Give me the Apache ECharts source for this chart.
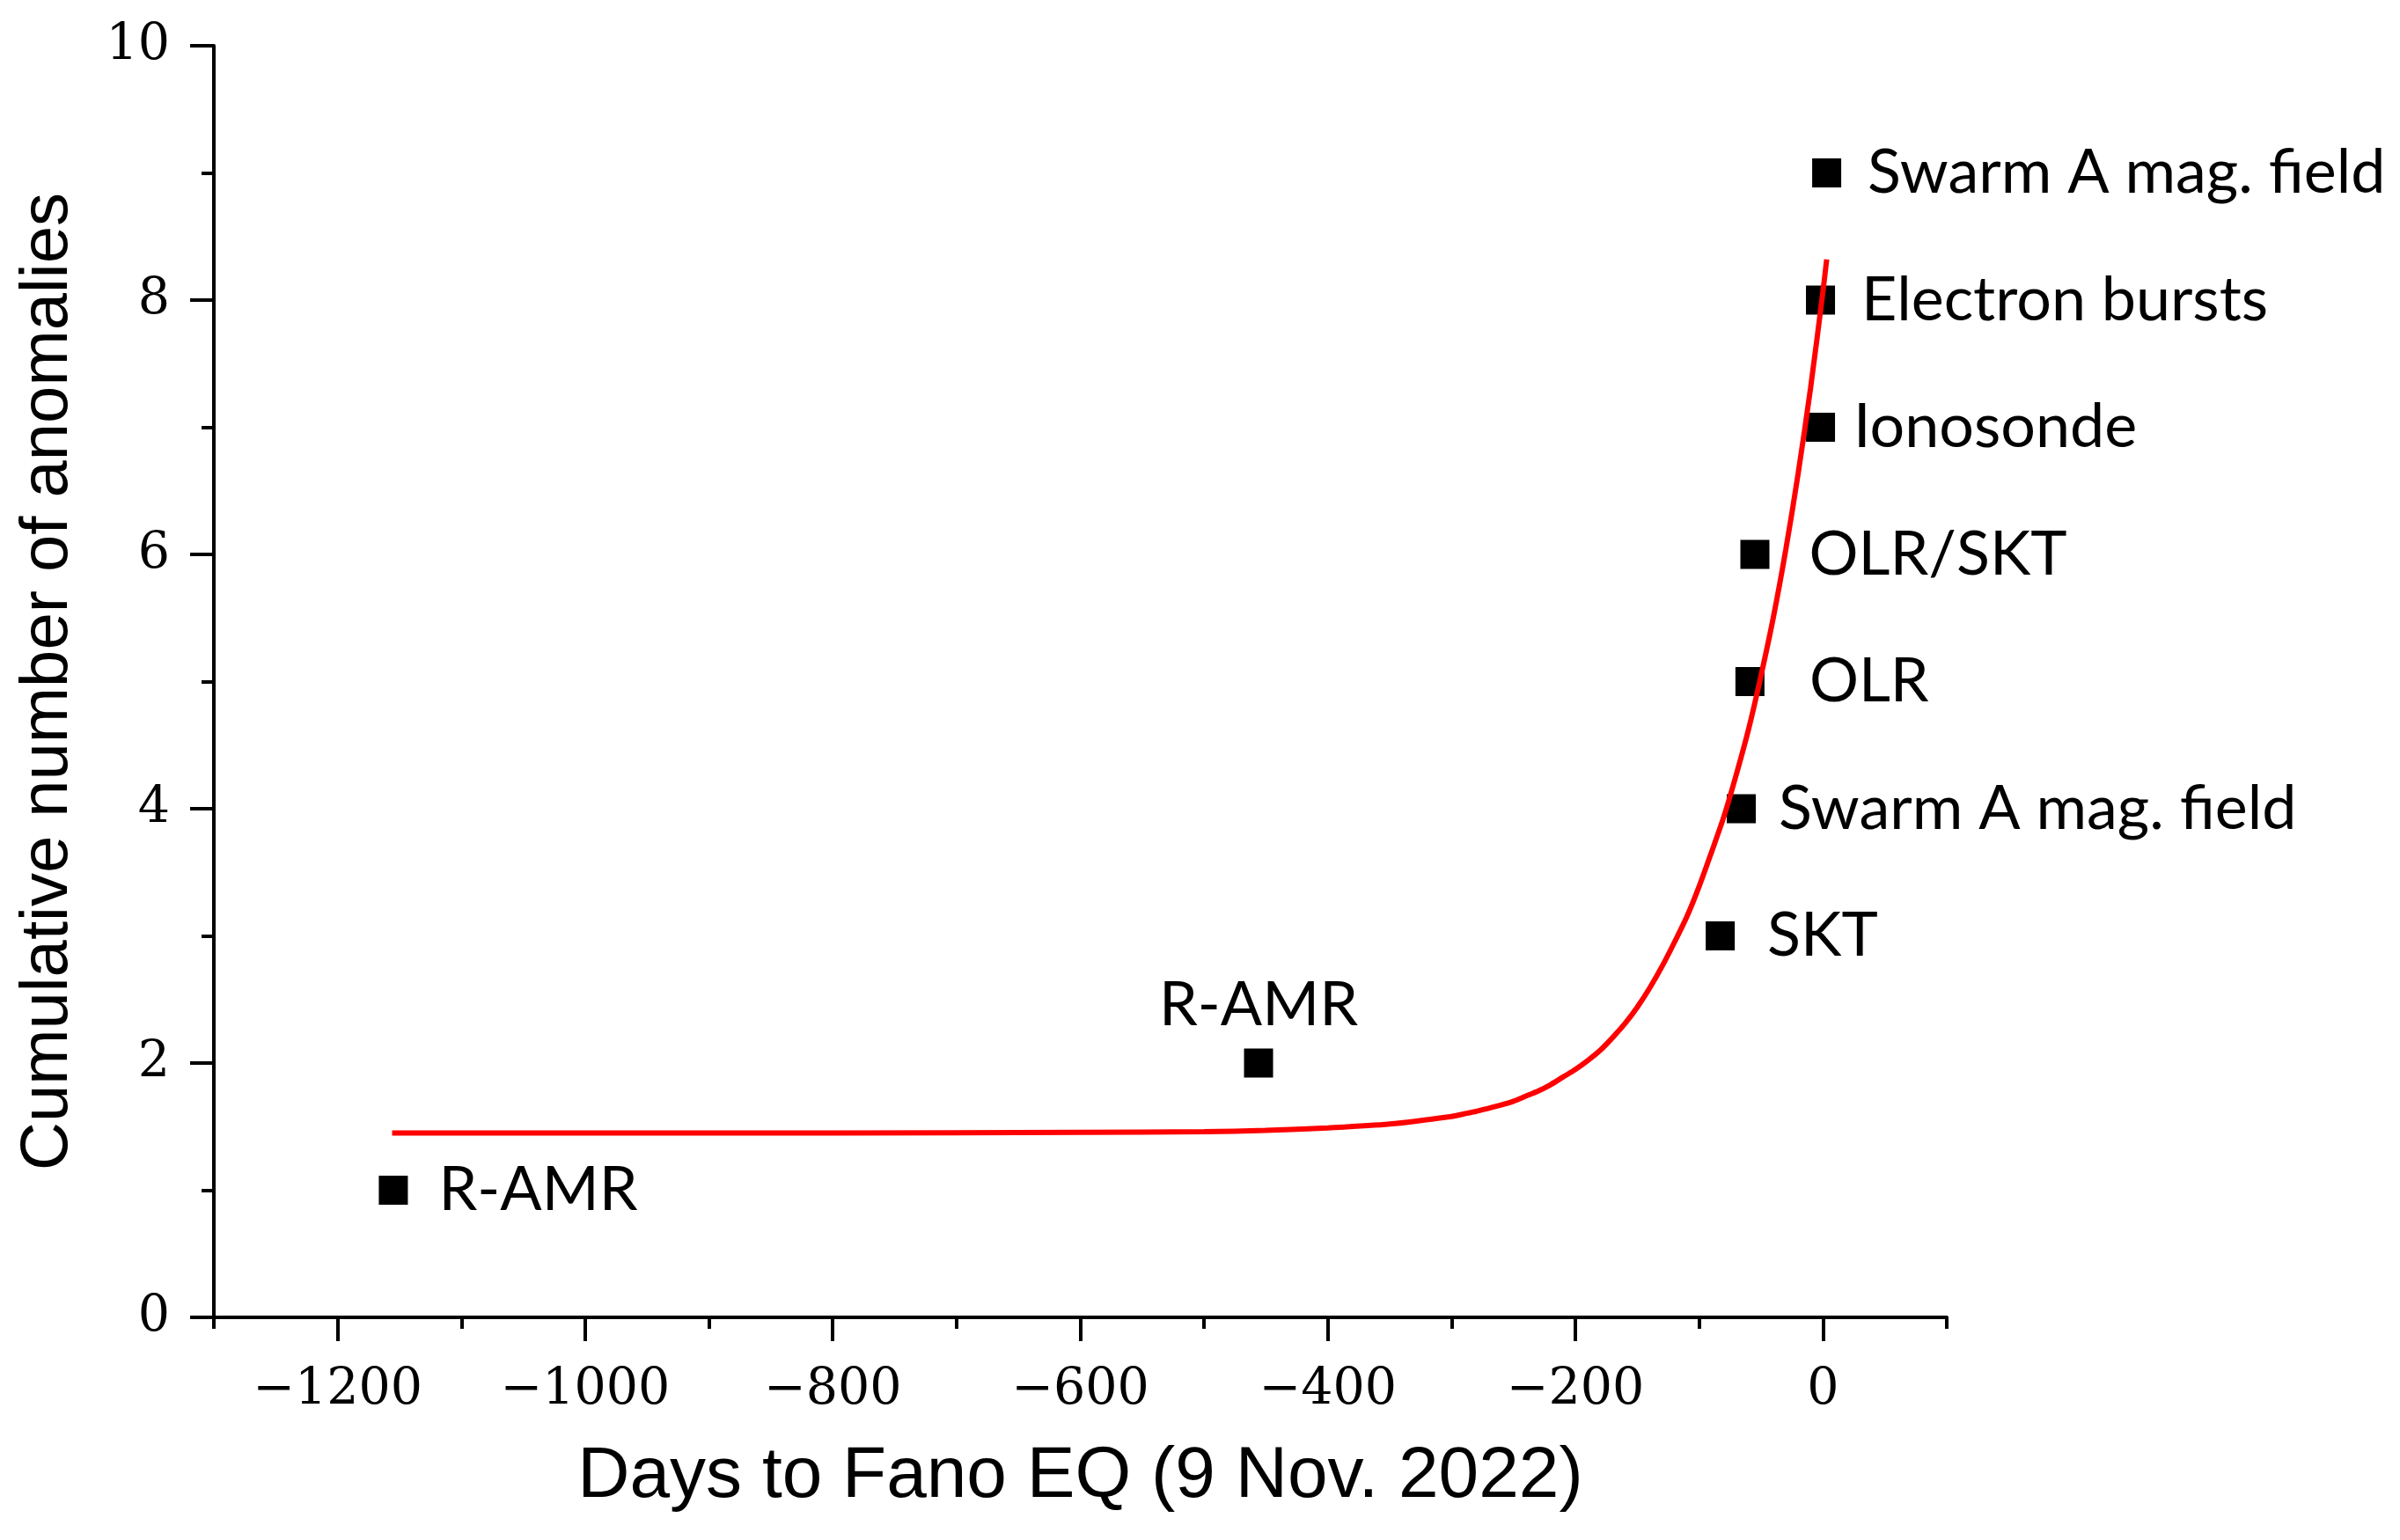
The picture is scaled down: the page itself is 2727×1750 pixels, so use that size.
<!DOCTYPE html>
<html>
<head>
<meta charset="utf-8">
<script src="https://cdn.jsdelivr.net/npm/echarts@6/dist/echarts.min.js"></script>
<style>
html,body{margin:0;padding:0;background:#fff;}
#chart{width:2727px;height:1750px;}
</style>
</head>
<body>
<div id="chart"></div>
<script>
// ---- data ----
const anomalyDays   = [-1155, -456, -83, -66, -59, -55, -2, -2, 3];
const anomalyCounts = [1, 2, 3, 4, 5, 6, 7, 8, 9];
const anomalyLabels = ['R-AMR', 'R-AMR', 'SKT', 'Swarm A mag. field', 'OLR', 'OLR/SKT', 'Ionosonde', 'Electron bursts', 'Swarm A mag. field'];

// red fitted curve
const fitDays   = [-1156, -1000, -800, -600, -500, -450, -400, -350, -300, -290, -280, -270, -260, -250, -240, -230, -220, -210, -200, -190, -180, -170, -160, -150, -140, -130, -120, -110, -100, -90, -80, -70, -60, -50, -40, -30, -20, -10, 0, 3];
const fitValues = [1.45, 1.45, 1.45, 1.455, 1.46, 1.47, 1.49, 1.52, 1.58, 1.60, 1.62, 1.645, 1.67, 1.70, 1.74, 1.78, 1.83, 1.89, 1.95, 2.02, 2.10, 2.20, 2.31, 2.44, 2.59, 2.76, 2.95, 3.15, 3.39, 3.66, 3.94, 4.27, 4.63, 5.05, 5.51, 6.04, 6.64, 7.31, 8.07, 8.32];

const xTickValues      = [-1200, -1000, -800, -600, -400, -200, 0];
const xMinorTickValues = [-1300, -1100, -900, -700, -500, -300, -100, 100];
const yTickValues      = [0, 2, 4, 6, 8, 10];

// ---- label layout (style only) ----
const labelPlacement = ['right', 'top', 'right', 'right', 'right', 'right', 'right', 'right', 'right'];
const labelGap       = [35, 14, 37, 26, 51, 45, 21, 30, 30];

const fmtNum = v => (v < 0 ? '\u2212' + Math.abs(v) : String(v));

const chart = echarts.init(document.getElementById('chart'), null, {renderer: 'canvas'});

const scatterData = anomalyDays.map((d, i) => ({
  value: [d, anomalyCounts[i]],
  label: {position: labelPlacement[i], distance: labelGap[i]}
}));
const fitData = fitDays.map((d, i) => [d, fitValues[i]]);

const axisLineStyle = {color: '#000', width: 4};

chart.setOption({
  backgroundColor: '#fff',
  animation: false,
  grid: {left: 243, right: 515, top: 52, bottom: 253, containLabel: false},
  xAxis: [{
    type: 'value', min: -1300, max: 100, interval: 100,
    axisLine: {show: true, onZero: false, lineStyle: axisLineStyle},
    axisTick: {show: true, customValues: xTickValues, length: 27, lineStyle: axisLineStyle},
    axisLabel: {show: true, customValues: xTickValues, formatter: fmtNum, margin: 55,
      fontFamily: 'DejaVu Serif', fontSize: 57, color: '#000'},
    splitLine: {show: false},
    name: 'Days to Fano EQ (9 Nov. 2022)', nameLocation: 'middle', nameGap: 140,
    nameTextStyle: {fontFamily: 'Liberation Sans', fontSize: 82, color: '#000'}
  }, {
    type: 'value', min: -1300, max: 100, interval: 100, position: 'bottom', offset: 0,
    axisLine: {show: false, onZero: false},
    axisTick: {show: true, customValues: xMinorTickValues, length: 13, lineStyle: axisLineStyle},
    axisLabel: {show: false},
    splitLine: {show: false}
  }],
  yAxis: [{
    type: 'value', min: 0, max: 10, interval: 2,
    axisLine: {show: true, onZero: false, lineStyle: axisLineStyle},
    axisTick: {show: true, customValues: yTickValues, length: 27, lineStyle: axisLineStyle},
    minorTick: {show: true, splitNumber: 2, length: 14, lineStyle: axisLineStyle},
    axisLabel: {show: true, customValues: yTickValues, formatter: fmtNum, margin: 50,
      fontFamily: 'DejaVu Serif', fontSize: 57, color: '#000'},
    splitLine: {show: false},
    minorSplitLine: {show: false},
    name: 'Cumulative number of anomalies', nameLocation: 'middle', nameGap: 150,
    nameTextStyle: {fontFamily: 'Liberation Sans', fontSize: 76, color: '#000'}
  }],
  series: [{
    type: 'scatter',
    xAxisIndex: 0, yAxisIndex: 0,
    symbol: 'rect', symbolSize: 33,
    itemStyle: {color: '#000', opacity: 1},
    z: 2,
    label: {show: true, formatter: p => anomalyLabels[p.dataIndex],
      fontFamily: 'Lato', fontSize: 70, color: '#000'},
    data: scatterData
  }, {
    type: 'line',
    xAxisIndex: 0, yAxisIndex: 0,
    smooth: 0.3,
    showSymbol: false,
    symbol: 'none',
    lineStyle: {color: '#ff0000', width: 6},
    z: 3,
    data: fitData
  }]
});
</script>
</body>
</html>
